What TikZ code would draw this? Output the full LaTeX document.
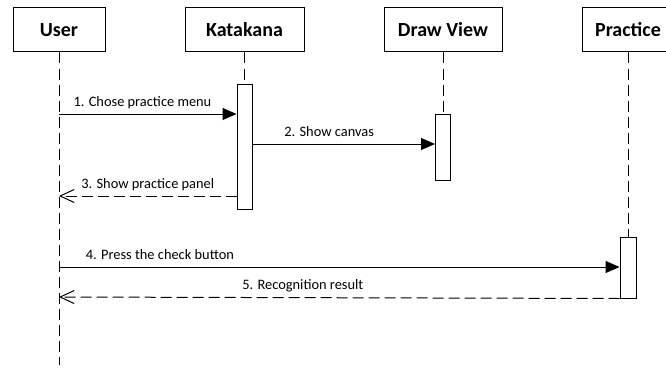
\documentclass[tikz,border=0pt]{standalone}
\usepackage{fontspec}
\setmainfont{Carlito}
\usetikzlibrary{arrows.meta,positioning}

\tikzset{
  actor/.style={draw, line width=1pt, minimum height=44pt, minimum width=92pt,
    inner sep=0pt, font=\fontsize{20}{24}\selectfont\bfseries},
  activation/.style={draw, fill=white, line width=1pt, minimum width=15pt, inner sep=0pt},
  lifeline/.style={line width=1pt, dash pattern=on 11pt off 5pt},
  call/.style={line width=1pt, -{Triangle[length=14pt,width=12pt]}},
  reply/.style={line width=1pt, dash pattern=on 11pt off 5pt,
    -{Straight Barb[length=14pt,width=13pt]}},
  msg/.style={anchor=base, yshift=8pt, inner sep=0pt, font=\fontsize{14.4}{17}\selectfont},
}

\begin{document}
\begin{tikzpicture}[x=1pt, y=-1pt]
          \useasboundingbox (0,0) rectangle (666,369);

          % nodes

          %actors
          \node[actor] (user) at (59,30) {User};
          \node[actor, right=79pt of user, minimum width=119pt] (katakana) {Katakana};
          \node[actor, right=79pt of katakana, minimum width=118pt] (drawview) {Draw View};
          \node[actor, right=79pt of drawview] (practice) {Practice};

          %activations
          \node[activation, below=31pt of katakana, minimum height=125pt] (act_katakana) {};
          \node[activation, below=61pt of drawview, minimum height=66pt] (act_drawview) {};
          \node[activation, below=184pt of practice, minimum height=61pt, minimum width=16pt] (act_practice) {};

          % message rows
          \coordinate (row1) at (0,114);
          \coordinate (row2) at (0,144);
          \coordinate (row3) at (0,196);
          \coordinate (row4) at (0,267);
          \coordinate (row5) at (0,297);
          \coordinate (row_end) at (0,365);

          % lifelines
          \draw[lifeline] (user.south) -- (user |- row_end);
          \draw[lifeline] (katakana.south) -- (act_katakana.north);
          \draw[lifeline] (drawview.south) -- (act_drawview.north);
          \draw[lifeline] (practice.south) -- (act_practice.north);

          % edges
          \draw[call] (user |- row1) -- node[msg, pos=0.47] {1. Chose practice menu} (act_katakana.west |- row1);
          \draw[call] (act_katakana.east |- row2) -- node[msg, pos=0.42] {2. Show canvas} (act_drawview.west |- row2);
          \draw[reply] (act_katakana.west |- row3) -- node[msg, pos=0.5] {3. Show practice panel} (user |- row3);
          \draw[call] (user |- row4) -- node[msg, pos=0.18] {4. Press the check button} (act_practice.west |- row4);
          \draw[reply] (act_practice.south west) -- node[msg, pos=0.565] {5. Recognition result} (user |- row5);

\end{tikzpicture}
\end{document}
